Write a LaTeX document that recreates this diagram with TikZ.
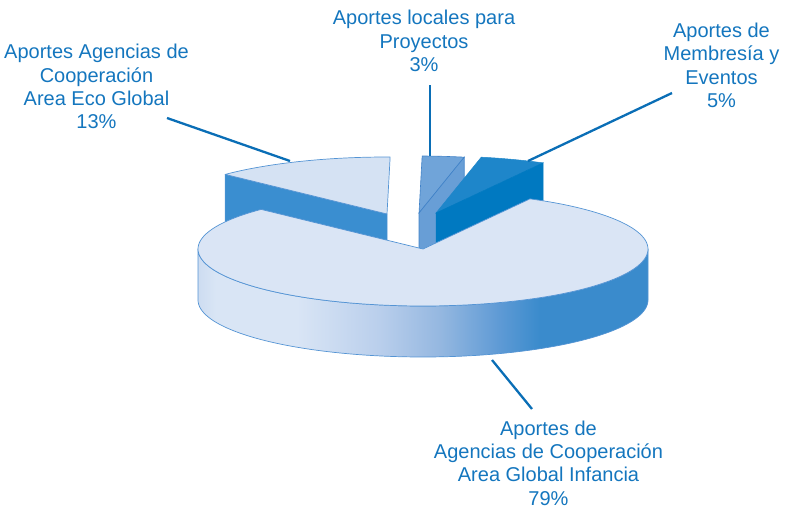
\documentclass[tikz,border=0pt]{standalone}
\usepackage{fontspec}
\setmainfont{Liberation Sans}
\definecolor{txt}{RGB}{20,118,190}
\definecolor{lead}{RGB}{10,110,182}
\definecolor{topL}{RGB}{218,229,245}
\definecolor{edge}{RGB}{84,148,212}
\definecolor{sA}{RGB}{205,220,241}
\definecolor{sB}{RGB}{217,229,245}
\definecolor{sC}{RGB}{186,207,236}
\definecolor{sD}{RGB}{148,183,224}
\definecolor{sE}{RGB}{94,154,213}
\definecolor{sideDark}{RGB}{58,139,204}
\definecolor{cutT}{RGB}{58,142,208}
\definecolor{topT}{RGB}{213,226,243}
\definecolor{threeTop}{RGB}{112,164,217}
\definecolor{threeCut}{RGB}{104,158,214}
\definecolor{threeEdge}{RGB}{64,130,200}
\definecolor{fiveTop}{RGB}{30,134,202}
\definecolor{fiveCut}{RGB}{0,121,193}
\pgfdeclarehorizontalshading{pieside}{100bp}{color(0bp)=(sA); color(25bp)=(sA); color(27bp)=(sB); color(36bp)=(sB); color(45bp)=(sC); color(52bp)=(sD); color(58.5bp)=(sE); color(63bp)=(sideDark); color(75bp)=(sideDark); color(100bp)=(sideDark)}
\tikzset{
  lbl/.style={text=txt, align=center, inner sep=0pt, font=\fontsize{20}{23.4}\selectfont},
  leader/.style={draw=lead, line width=2.3pt},
  pieedge/.style={draw=edge, line width=0.7pt, line join=round}
}
\begin{document}
\begin{tikzpicture}[x=1pt, y=-1pt]
\useasboundingbox (0,0) rectangle (786,514);
% 13% slice (exploded, back left)
\path[fill=cutT, draw=edge, line width=0.5pt] (387,214) -- ({387+225*cos(136)},{214-57*sin(136)}) -- ({387+225*cos(136)},{265-57*sin(136)}) -- (387,265) -- cycle;
\path[fill=topT, pieedge] (387,214) -- plot[domain=89.2:136, samples=40] ({387+225*cos(\x)},{214-57*sin(\x)}) -- cycle;
% 3% slice
\path[fill=threeTop, draw=threeEdge, line width=0.6pt] (419,213) -- plot[domain=78.4:89.2, samples=12] ({419+225*cos(\x)},{213-57*sin(\x)}) -- cycle;
\path[fill=threeCut, draw=threeEdge, line width=0.6pt] (419,213) -- ({419+225*cos(78.4)},{213-57*sin(78.4)}) -- ({419+225*cos(78.4)},{264-57*sin(78.4)}) -- (419,264) -- cycle;
% 5% slice
\path[fill=fiveTop, draw=fiveTop, line width=0.5pt] (436,213) -- plot[domain=61.6:78.4, samples=16] ({436+225*cos(\x)},{213-57*sin(\x)}) -- cycle;
\path[fill=fiveCut, draw=fiveCut, line width=0.5pt] (436,213) -- ({436+225*cos(61.6)},{213-57*sin(61.6)}) -- ({436+225*cos(61.6)},{264-57*sin(61.6)}) -- (436,264) -- cycle;
% main 79% slice
\path[shading=pieside, pieedge] plot[domain=180:360, samples=100] ({423+225*cos(\x)},{249-57*sin(\x)}) -- plot[domain=360:180, samples=100] ({423+225*cos(\x)},{300-57*sin(\x)}) -- cycle;
\path[fill=topL, pieedge] (423,249) -- plot[domain=136:421.6, samples=160] ({423+225*cos(\x)},{249-57*sin(\x)}) -- cycle;
% labels
\node[lbl] (t3) at (424,41) {Aportes locales para\\Proyectos\\3\%};
\node[lbl] (t13) at (96.5,86.6) {Aportes Agencias de\\Cooperación\\Area Eco Global\\13\%};
\node[lbl] (t5) at (721.5,65.3) {Aportes de\\Membresía y\\Eventos\\5\%};
\node[lbl] (t79) at (548.5,463) {Aportes de\\Agencias de Cooperación\\Area Global Infancia\\79\%};
% leader lines
\coordinate (a13) at (167,118);
\coordinate (b13) at (290,161);
\coordinate (a3) at (430,85);
\coordinate (b3) at (430,156);
\coordinate (a5) at (672,93);
\coordinate (b5) at (528,161);
\coordinate (a79) at (492,360);
\coordinate (b79) at (532,409);
\draw[leader] (a13) -- (b13);
\draw[leader] (a3) -- (b3);
\draw[leader] (a5) -- (b5);
\draw[leader] (a79) -- (b79);
\end{tikzpicture}
\end{document}
